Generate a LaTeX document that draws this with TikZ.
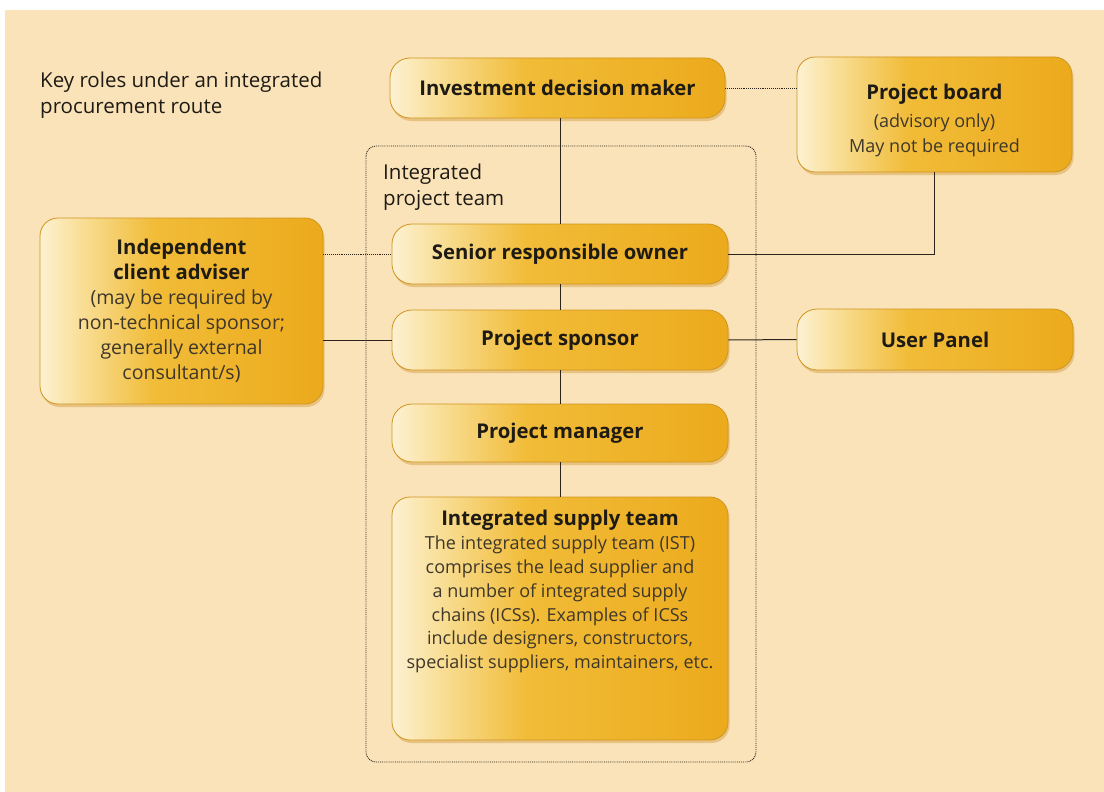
\documentclass[tikz,border=0pt]{standalone}
\usepackage{fontspec}
\setmainfont{Open Sans}
\usetikzlibrary{shadows}
\definecolor{bg}{HTML}{FAE3B9}
\definecolor{boxL}{HTML}{FDF1D2}
\definecolor{boxLL}{HTML}{F8DC90}
\definecolor{boxM}{HTML}{F1BC38}
\definecolor{boxR}{HTML}{ECAA1C}
\definecolor{boxE}{HTML}{CF951E}
\definecolor{shad}{HTML}{C8861A}
\definecolor{txt}{HTML}{1E1A14}
\definecolor{sub}{HTML}{3E372A}
\definecolor{ln}{HTML}{2A241C}
\newcommand\dsc{\fontsize{18}{23.8}\selectfont\mdseries\color{sub}}
\newcommand\dscb{\fontsize{19.5}{25.4}\selectfont\mdseries\color{sub}}
\pgfdeclarehorizontalshading{boxshade}{100bp}{color(0bp)=(boxL); color(25bp)=(boxL); color(33bp)=(boxLL); color(45bp)=(boxM); color(75bp)=(boxR); color(100bp)=(boxR)}
\tikzset{
  role/.style={draw=boxE, line width=0.8pt, shading=boxshade,
    drop shadow={shadow xshift=1.5pt, shadow yshift=-3pt, fill=shad, opacity=0.35},
    text=txt, align=center, inner sep=4pt, font=\fontsize{20.3}{25}\selectfont\bfseries},
  pill/.style={role, rounded corners=20pt},
  card/.style={role, rounded corners=18pt},
  conn/.style={draw=ln, line width=1pt},
  dots/.style={draw=ln, line width=0.9pt, densely dotted},
  plain/.style={text=txt, align=left, inner sep=0pt, font=\fontsize{20.5}{26}\selectfont}
}
\begin{document}
\begin{tikzpicture}[x=1pt, y=-1pt]
  \useasboundingbox (0,0) rectangle (1104,792);
  \fill[white] (0,0) rectangle (1104,792);
  \fill[bg] (5,10) rectangle (1104,792);

  % integrated project team boundary
  \draw[dots, rounded corners=10pt] (366,146) rectangle (756,762);
  \node[plain, anchor=north west] (iptlabel) at (383,164) {Integrated\\project team};
  \node[plain, anchor=north west] (title) at (40,72) {Key roles under an integrated\\procurement route};

  \node[pill, minimum width=335pt, minimum height=60pt] (idm) at (557.5,88) {Investment decision maker};
  \node[card, minimum width=275pt, minimum height=115pt] (pb) at (934.5,114.5)
    {\rule{0pt}{28pt}Project board\\[3pt]{\dsc (advisory only)}\\{\dsc May not be required}};
  \node[pill, minimum width=336pt, minimum height=60pt] (sro) at (560,254) {Senior responsible owner};
  \node[card, minimum width=283pt, minimum height=186pt] (ica) at (181.5,311)
    {Independent\\client adviser\\{\dscb (may be required by}\\{\dscb non-technical sponsor;}\\{\dscb generally external}\\{\dscb consultant/s)}};
  \node[pill, minimum width=336pt, minimum height=60pt] (ps) at (560,340) {Project sponsor};
  \node[pill, minimum width=276pt, minimum height=61pt] (up) at (935,339.5) {User Panel};
  \node[pill, minimum width=336pt, minimum height=58pt] (pm) at (560,433) {Project manager};
  \node[card, minimum width=336pt, minimum height=243pt, font=\fontsize{20.3}{23.8}\selectfont\bfseries] (ist) at (560,618.5)
    {Integrated supply team\\{\dsc The integrated supply team (IST)}\\{\dsc comprises the lead supplier and}\\{\dsc a number of integrated supply}\\{\dsc chains (ICSs). Examples of ICSs}\\{\dsc include designers, constructors,}\\{\dsc specialist suppliers, maintainers, etc.}\\[34pt]};

  % connectors
  \draw[conn] (sro.north |- idm.south) -- (sro.north);
  \draw[dots] (idm.east) -- (idm.east -| pb.west);
  \draw[conn] (pb.south) -- (pb.south |- sro.east) -- (sro.east);
  \draw[dots] (ica.east |- sro.west) -- (sro.west);
  \draw[conn] (sro.south) -- (ps.north);
  \draw[conn] (ica.east |- ps.west) -- (ps.west);
  \draw[conn] (ps.east) -- (up.west);
  \draw[conn] (ps.south) -- (pm.north);
  \draw[conn] (pm.south) -- (ist.north);
\end{tikzpicture}
\end{document}
